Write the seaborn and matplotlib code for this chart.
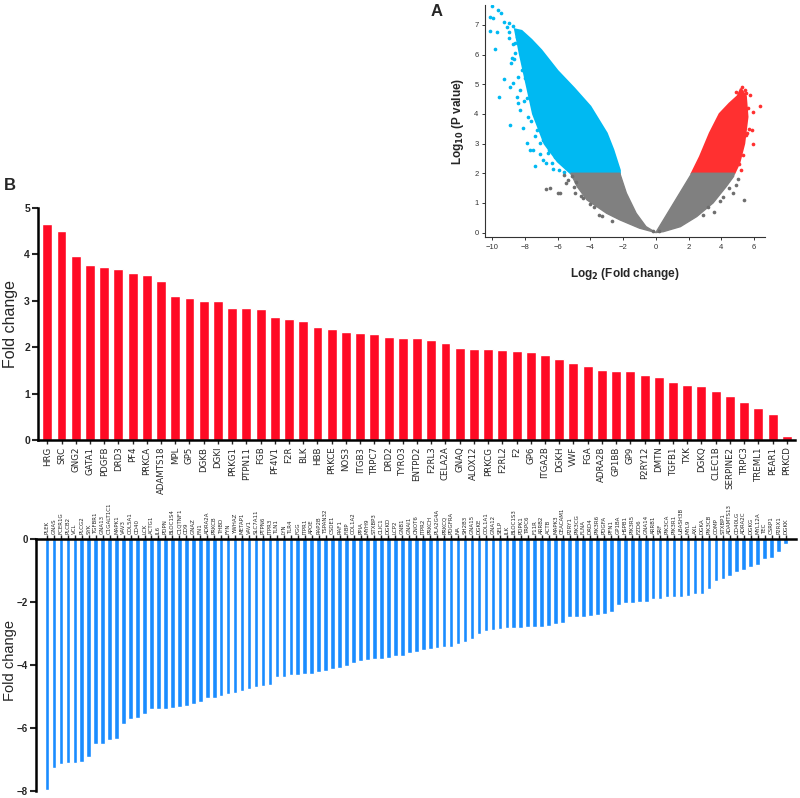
"""
Volcano plot (A) + up/down regulated gene fold-change bars (B).
Saves out.png
"""

import numpy as np
import pandas as pd
import matplotlib
matplotlib.use("Agg")
import matplotlib.pyplot as plt
import seaborn as sns

# ── Panel B: up-regulated genes ──────────────────────────────
up_genes = ["HRG", "SRC", "GNG2", "GATA1", "PDGFB", "DRD3", "PF4", "PRKCA", "ADAMTS18",
            "MPL", "GP5", "DGKB", "DGKI", "PRKG1", "PTPN11", "FGB", "PF4V1", "F2R", "BLK",
            "HBB", "PRKCE", "NOS3", "ITGB3", "TRPC7", "DRD2", "TYRO3", "ENTPD2", "F2RL3",
            "CELA2A", "GNAQ", "ALOX12", "PRKCG", "F2RL2", "F2", "GP6", "ITGA2B", "DGKH",
            "VWF", "FGA", "ADRA2B", "GP1BB", "GP9", "P2RY12", "DMTN", "TGFB1", "TXK",
            "DGKQ", "CLEC1B", "SERPINE2", "TRPC3", "TREML1", "PEAR1", "PRKCD"]
up_fc = [4.65, 4.50, 3.97, 3.77, 3.72, 3.68, 3.60, 3.56, 3.43,
         3.10, 3.06, 3.00, 3.00, 2.85, 2.85, 2.83, 2.65, 2.61, 2.57,
         2.44, 2.39, 2.33, 2.30, 2.29, 2.22, 2.20, 2.20, 2.16,
         2.10, 1.99, 1.96, 1.96, 1.94, 1.92, 1.89, 1.83, 1.75,
         1.66, 1.60, 1.52, 1.50, 1.49, 1.40, 1.37, 1.25, 1.20,
         1.17, 1.07, 0.95, 0.83, 0.69, 0.57, 0.09]

# ── Panel B: down-regulated genes ────────────────────────────
down_genes = ["PLEK", "GNAS", "FCER1G", "PLCB2", "VCL", "PLCG2", "SYK", "TGFBR1", "GNA13",
              "C1GALT1C1", "MAPK1", "VAV3", "COL5A1", "CD40", "LCK", "ACTG1", "IL6", "PDPN",
              "BLOC1S4", "C1QTNF1", "CD9", "GNAZ", "FN1", "ADRA2A", "PRKCB", "THBD", "FYN",
              "YWHAZ", "METAP1", "VAV1", "SLC7A11", "PTPN6", "ITPR3", "TLN1", "LYN", "TLR4",
              "FGG", "ITPR1", "APOE", "RAP2B", "TSPAN32", "CSDE1", "RAF1", "FIBP", "COL1A2",
              "PPIA", "MYH9", "STXBP3", "CLIC1", "DGKD", "LCP2", "GNB1", "GNAI1", "CNOT6",
              "ITPR2", "PRKCH", "PLA2G4A", "PRKCQ", "PDGFRA", "NA", "SH2B3", "GNA15", "DGKE",
              "COL1A1", "GNA12", "SELP", "ILK", "BLOC1S3", "PDPK1", "TRPC6", "F11R", "ARRB2",
              "ACTB", "MAPK3", "CEACAM1", "P2RY1", "PIK3CG", "FLNA", "DRD4", "PIK3R6", "PDGFA",
              "PFN1", "GP1BA", "HSPB1", "PIK3R5", "FZD6", "GNA14", "ARRB1", "SRF", "PIK3CA",
              "PIK3R1", "UBASH3B", "MYL9", "AXL", "DGKA", "PIK3CB", "COMP", "STXBP1",
              "ADAMTS13", "CD40LG", "ADRA2C", "DGKG", "MYL12A", "TEC", "CSRP1", "P2RX1", "DGKK"]
down_fc = [-7.98, -7.28, -7.15, -7.12, -7.10, -7.08, -6.93, -6.51, -6.50, -6.39,
           -6.35, -5.86, -5.70, -5.68, -5.55, -5.39, -5.38, -5.38, -5.37, -5.33,
           -5.31, -5.23, -5.17, -5.05, -5.03, -4.97, -4.92, -4.87, -4.83, -4.75,
           -4.71, -4.65, -4.62, -4.39, -4.38, -4.32, -4.31, -4.29, -4.27, -4.22,
           -4.20, -4.12, -4.10, -4.03, -3.93, -3.87, -3.85, -3.82, -3.80, -3.77,
           -3.71, -3.71, -3.60, -3.58, -3.51, -3.50, -3.47, -3.42, -3.42, -3.32,
           -3.28, -3.16, -3.02, -2.92, -2.87, -2.84, -2.83, -2.82, -2.81, -2.80,
           -2.78, -2.78, -2.75, -2.70, -2.65, -2.47, -2.47, -2.46, -2.44, -2.41,
           -2.36, -2.30, -2.10, -2.03, -2.03, -2.00, -2.00, -1.90, -1.90, -1.84,
           -1.82, -1.82, -1.81, -1.75, -1.74, -1.57, -1.32, -1.27, -1.16, -1.05,
           -0.98, -0.89, -0.83, -0.64, -0.58, -0.41, -0.15]

# ── Panel A: outlines of the dense point clouds ──
blue_core_x = [-2.2, -2.2, -2.6, -3.0, -4.0, -5.0, -6.0, -7.0, -7.6, -8.2, -8.6, -8.3,
               -7.9, -7.5, -6.8, -6.0, -5.2]
blue_core_y = [2.0, 2.1, 2.79, 3.35, 4.25, 4.87, 5.45, 6.15, 6.5, 6.8, 6.85, 6.0,
               5.0, 4.0, 3.0, 2.4, 2.0]
gray_left_x = [-5.2, -2.2, -1.8, -1.2, -0.6, 0.0, -1.0, -2.2, -3.0, -4.2, -4.8]
gray_left_y = [2.0, 2.0, 1.33, 0.65, 0.2, 0.0, 0.15, 0.43, 0.65, 1.1, 1.55]
red_core_x = [2.2, 2.7, 3.3, 3.9, 4.5, 5.0, 5.2, 5.5, 5.6, 5.4, 5.1, 4.8]
red_core_y = [2.0, 2.56, 3.35, 4.0, 4.35, 4.6, 4.85, 4.6, 3.9, 3.0, 2.35, 2.0]
gray_right_x = [0.0, 2.2, 4.8, 4.75, 4.3, 3.5, 2.5, 1.5, 0.45]
gray_right_y = [0.0, 2.0, 2.0, 1.89, 1.55, 1.0, 0.54, 0.2, 0.03]

# scattered points outside the dense clouds
blue_pts_x = [-10.14, -9.94, -10.14, -9.63, -9.43, -9.73, -9.12, -9.84, -9.29, -8.92,
              -9.59, -8.92, -8.72, -8.82, -8.61, -8.20, -8.51, -8.41, -8.31, -8.31,
              -8.10, -7.90, -7.80, -7.70, -7.50, -7.50, -7.39, -7.29, -7.29, -7.09,
              -6.88, -6.68, -6.68, -6.37, -6.17, -10.0, -9.0, -8.7, -8.5, -8.3,
              -8.8, -8.0, -7.7, -7.6, -7.0, -9.3, -8.6, -7.95, -7.2, -6.5,
              -9.0, -8.95, -8.75, -8.65, -8.45, -8.05, -7.85, -7.65, -7.4, -7.1,
              -6.9, -6.6, -6.3, -5.9, -5.6]
blue_pts_y = [6.81, 7.22, 7.28, 7.50, 7.39, 6.78, 6.92, 6.18, 5.18, 4.90,
              4.56, 3.63, 5.03, 5.71, 6.04, 5.48, 4.58, 4.36, 4.81, 4.13,
              3.52, 3.03, 3.91, 2.79, 2.79, 4.36, 2.25, 3.46, 4.70, 3.01,
              3.12, 3.57, 2.36, 2.34, 2.56, 7.64, 7.05, 6.95, 6.60, 6.20,
              5.90, 5.20, 5.50, 4.70, 5.30, 7.10, 6.40, 6.10, 3.90, 2.80,
              6.75, 6.55, 6.35, 5.85, 5.25, 4.45, 4.55, 3.75, 3.25, 2.65,
              2.45, 2.70, 2.15, 2.10, 2.05]
gray_pts_x = [-6.68, -6.48, -5.97, -5.87, -5.46, -5.36, -4.95, -4.85, -4.44, -5.10,
              -5.60, -4.0, -3.5, 4.72, 5.38, 3.58, 4.90, 5.00, 4.50, -0.2, 0.2, 4.1,
              -5.0, -4.6, -3.8, -3.3, -2.7, 2.9, 3.2, 3.9]
gray_pts_y = [1.46, 1.52, 1.35, 1.35, 1.66, 1.78, 1.35, 1.69, 1.16, 1.90,
              1.95, 0.95, 0.6, 1.33, 1.09, 0.70, 1.60, 1.80, 1.50, 0.05, 0.05, 1.2,
              1.55, 1.25, 0.85, 0.55, 0.40, 0.60, 0.85, 1.05]
red_pts_x = [6.35, 5.95, 5.90, 5.95, 5.54, 5.78, 5.54, 5.60, 5.70, 5.30, 5.10, 5.25, 4.9,
             5.45, 5.65, 5.2]
red_pts_y = [4.27, 4.06, 3.46, 2.99, 3.29, 4.64, 4.70, 3.35, 3.50, 2.60, 2.30, 4.90, 4.75,
             4.80, 4.20, 2.10]

vol_xticks = [-10, -8, -6, -4, -2, 0, 2, 4, 6]
vol_yticks = [0, 1, 2, 3, 4, 5, 6, 7]

RED_BAR = "#FF0A24"
BLUE_BAR = "#1A8CFF"
SKY = "#00B9F2"
RED_PT = "#FF3030"
GRAY_PT = "#6E6E6E"
GRAY_FILL = "#808080"
NARROW = ["Liberation Sans Narrow", "DejaVu Sans"]

sns.set_style("ticks")
plt.rcParams["font.family"] = ["Liberation Sans", "DejaVu Sans"]

fig = plt.figure(figsize=(8, 7.98), dpi=100)

# ── B. Up-regulated bars ─────────────────────────────────────
up_df = pd.DataFrame({"gene": up_genes, "fc": up_fc})
ax_up = fig.add_axes([0.0479, 0.4482, 0.9459, 0.2914])
ax_up.patch.set_alpha(0)
sns.barplot(data=up_df, x="gene", y="fc", color=RED_BAR, saturation=1,
            width=0.7, errorbar=None, ax=ax_up)
ax_up.set_xlim(-0.63, 52.58)
ax_up.set_ylim(0, 5)
ax_up.set_yticks([0, 1, 2, 3, 4, 5])
ax_up.set_xlabel("")
ax_up.set_ylabel("Fold change", fontsize=11.5)
ax_up.yaxis.set_label_coords(-0.027, 0.5)
ax_up.tick_params(axis="x", length=3, width=1, pad=1.5, labelsize=6.2, rotation=90)
ax_up.tick_params(axis="y", length=4, width=1.5, pad=2, labelsize=7.5)
for lbl in ax_up.get_xticklabels():
    lbl.set_family(NARROW)
for lbl in ax_up.get_yticklabels():
    lbl.set_fontweight("bold")
sns.despine(ax=ax_up)
for s in ["left", "bottom"]:
    ax_up.spines[s].set_linewidth(1.8)
    ax_up.spines[s].set_color("black")

# ── A. Volcano (drawn on top of the bar panel) ───────────────
ax_v = fig.add_axes([0.606, 0.7026, 0.35, 0.291])
ax_v.set_zorder(5)
ax_v.patch.set_alpha(0)
ax_v.fill(blue_core_x, blue_core_y, color=SKY, lw=1.5)
ax_v.fill(red_core_x, red_core_y, color=RED_PT, lw=1.5)
ax_v.fill(gray_left_x, gray_left_y, color=GRAY_FILL, lw=1.0)
ax_v.fill(gray_right_x, gray_right_y, color=GRAY_FILL, lw=1.0)
sns.scatterplot(x=blue_pts_x, y=blue_pts_y, color=SKY, s=7, linewidth=0, ax=ax_v)
sns.scatterplot(x=gray_pts_x, y=gray_pts_y, color=GRAY_PT, s=7, linewidth=0, ax=ax_v)
sns.scatterplot(x=red_pts_x, y=red_pts_y, color=RED_PT, s=7, linewidth=0, ax=ax_v)
ax_v.set_xlim(-10.45, 6.66)
ax_v.set_ylim(-0.16, 7.67)
ax_v.set_xticks(vol_xticks)
ax_v.set_yticks(vol_yticks)
ax_v.tick_params(labelsize=5.5, colors="#333333", length=2.5, width=0.7, pad=2)
sns.despine(ax=ax_v)
for s in ["left", "bottom"]:
    ax_v.spines[s].set_linewidth(0.8)
    ax_v.spines[s].set_color("#333333")
ax_v.set_xlabel(r"Log$_{\mathbf{2}}$ (Fold change)", fontsize=8.5, fontweight="bold", labelpad=11)
ax_v.set_ylabel(r"Log$_{\mathbf{10}}$ (P value)", fontsize=8.5, fontweight="bold", labelpad=6)
fig.text(0.546, 0.985, "A", fontsize=12, fontweight="bold", va="center", ha="center")
fig.text(0.0125, 0.768, "B", fontsize=12, fontweight="bold", va="center", ha="center")

# ── B. Down-regulated bars ───────────────────────────────────
dn_df = pd.DataFrame({"gene": down_genes, "fc": down_fc})
ax_dn = fig.add_axes([0.0446, 0.0088, 0.9504, 0.3154])
sns.barplot(data=dn_df, x="gene", y="fc", color=BLUE_BAR, saturation=1,
            width=0.67, errorbar=None, ax=ax_dn)
ax_dn.set_xlim(-1.62, 107.5)
ax_dn.set_ylim(-8, 0)
ax_dn.set_yticks([0, -2, -4, -6, -8])
ax_dn.set_xlabel("")
ax_dn.set_ylabel("Fold change", fontsize=10.5)
ax_dn.yaxis.set_label_coords(-0.024, 0.52)
ax_dn.xaxis.tick_top()
ax_dn.tick_params(axis="x", length=3, width=1, pad=1, labelsize=4, rotation=90)
ax_dn.tick_params(axis="y", length=4, width=1.5, pad=1.5, labelsize=7)
for lbl in ax_dn.get_xticklabels():
    lbl.set_family(NARROW)
for lbl in ax_dn.get_yticklabels():
    lbl.set_fontweight("bold")
ax_dn.spines["right"].set_visible(False)
ax_dn.spines["bottom"].set_visible(False)
for s in ["left", "top"]:
    ax_dn.spines[s].set_linewidth(1.8)
    ax_dn.spines[s].set_color("black")

fig.savefig("out.png", dpi=100)
plt.close(fig)
